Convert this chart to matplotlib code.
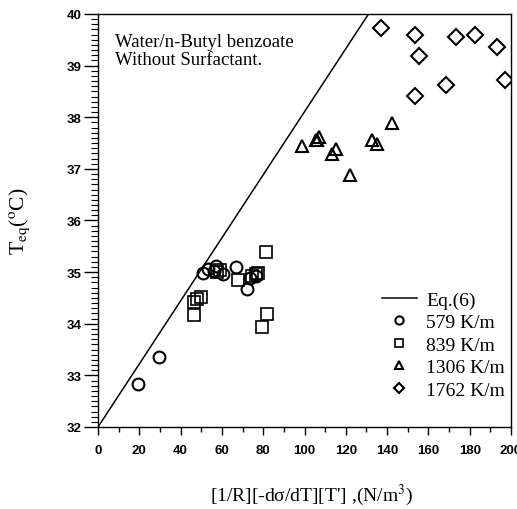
import matplotlib.pyplot as plt
from matplotlib.ticker import MultipleLocator

plt.rcParams['mathtext.fontset'] = 'stix'

# data
x_579 = [19.5, 29.5, 50.7, 53.4, 57.1, 56.0, 60.4, 66.8, 72.3, 73.6, 76.4]
y_579 = [32.83, 33.36, 34.98, 35.06, 35.11, 35.02, 34.97, 35.09, 34.67, 34.88, 34.93]

x_839 = [46.5, 47.8, 49.9, 46.6, 59.1, 57.5, 67.9, 74.4, 77.6, 76.5, 81.4, 81.7, 79.3]
y_839 = [34.43, 34.48, 34.51, 34.16, 35.04, 35.00, 34.85, 34.93, 34.98, 34.96, 35.39, 34.19, 33.93]

x_1306 = [98.9, 105.4, 107.2, 106.2, 113.1, 115.3, 122.0, 132.8, 134.9, 142.6]
y_1306 = [37.45, 37.55, 37.61, 37.55, 37.29, 37.39, 36.89, 37.56, 37.48, 37.89]

x_1762 = [137.0, 153.5, 155.4, 153.5, 168.4, 173.2, 182.6, 193.1, 197.1]
y_1762 = [39.73, 39.60, 39.18, 38.41, 38.63, 39.55, 39.60, 39.36, 38.73]

# Eq.(6) line
eq_x = [0, 131]
eq_y = [32, 40]

serif = ['Liberation Serif', 'DejaVu Serif']
sans = ['Liberation Sans', 'DejaVu Sans']

fig = plt.figure(figsize=(5.17, 5.10), dpi=100)
ax = fig.add_axes([0.1896, 0.1608, 0.7988, 0.8098])

ax.plot(eq_x, eq_y, color='black', lw=1.1, label='Eq.(6)')
mk = dict(linestyle='none', mfc='none', mec='black', mew=1.5)
ax.plot(x_579, y_579, marker='o', ms=8.5, label='579 K/m', **mk)
ax.plot(x_839, y_839, marker='s', ms=8, mew=1.2, linestyle='none', mfc='none', mec='black', label='839 K/m')
ax.plot(x_1306, y_1306, marker='^', ms=8.5, label='1306 K/m', **mk)
ax.plot(x_1762, y_1762, marker='D', ms=8, label='1762 K/m', **mk)

ax.set_xlim(0, 200)
ax.set_ylim(32, 40)
ax.xaxis.set_major_locator(MultipleLocator(20))
ax.xaxis.set_minor_locator(MultipleLocator(10))
ax.yaxis.set_major_locator(MultipleLocator(1))
ax.yaxis.set_minor_locator(MultipleLocator(0.1))

ax.tick_params(axis='x', which='major', direction='out', length=6, width=1, pad=6)
ax.tick_params(axis='x', which='minor', direction='out', length=3.5, width=1)
ax.tick_params(axis='y', which='major', direction='out', length=10, width=1, pad=2)
ax.tick_params(axis='y', which='minor', direction='out', length=5, width=0.8)
for lab in ax.get_xticklabels() + ax.get_yticklabels():
    lab.set_family(sans)
    lab.set_fontsize(9.5)
    lab.set_fontweight('bold')
for sp in ax.spines.values():
    sp.set_linewidth(1.0)

ax.text(0.04, 0.955, 'Water/n-Butyl benzoate\nWithout Surfactant.', transform=ax.transAxes,
        ha='left', va='top', family=serif, fontsize=13.5, linespacing=1.1)

ax.set_xlabel("[1/R][-d\u03c3/dT][T'] ,(N/m$^3$)", family=serif, fontsize=14)
ax.xaxis.set_label_coords(0.516, -0.163)
ax.xaxis.label.set_va('center')
ax.set_ylabel(r'T$_{\mathrm{eq}}$($^{\mathrm{o}}$C)', family=serif, fontsize=15.5)
ax.yaxis.set_label_coords(-0.189, 0.5)
ax.yaxis.label.set_va('center')

ax.legend(loc='lower right', bbox_to_anchor=(1.005, 0.05), frameon=False, markerscale=0.7,
          handlelength=1.8, handletextpad=0.5, labelspacing=0.25, borderaxespad=0,
          prop={'family': serif, 'size': 14})

fig.savefig('out.png', dpi=100)
